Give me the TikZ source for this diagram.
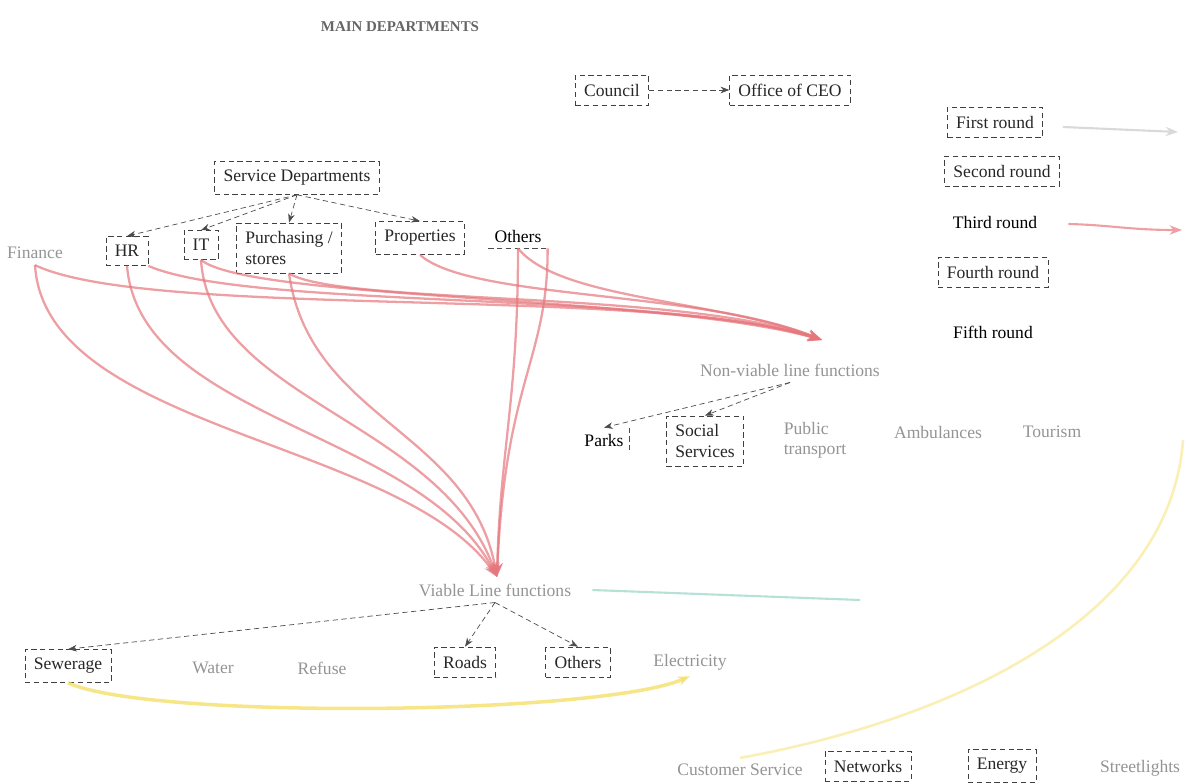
\documentclass[tikz,border=0pt]{standalone}
\usepackage{fontspec}
\setmainfont{Liberation Serif}
\usetikzlibrary{arrows.meta}
\definecolor{flowred}{RGB}{229,118,124}
\definecolor{flowyellow}{RGB}{244,222,96}
\definecolor{flowgreen}{RGB}{150,212,198}

\begin{document}
\begin{tikzpicture}[x=0.02cm,y=-0.02cm,font=\fontsize{10}{11.5}\selectfont,
    dbox/.style={draw=black!75,densely dashed,inner sep=5pt,text=black!85},
    dim/.style={text=black!42},
    link/.style={draw=black!70,densely dashed,-{Stealth[length=5pt]}},
    flow/.style={draw=flowred,line width=1.3pt,opacity=0.7,-{Stealth[length=8pt,width=6pt]}},
    legend/.style={line width=1.2pt,-{Stealth[length=7pt]}}]
  \useasboundingbox (0,0) rectangle (1185,783);

  % top level
  \node[font=\fontsize{8.5}{10}\selectfont\bfseries,text=black!60] (main) at (400,27) {MAIN DEPARTMENTS};
  \node[dbox] (council) at (612,90) {Council};
  \node[dbox] (ceo) at (790,90) {Office of CEO};
  \draw[link] (council) -- (ceo);

  % service departments
  \node[dbox] (service) at (297,178) {Service Departments};
  \node[dim] (finance) at (35,253) {Finance};
  \node[dbox] (hr) at (127,251) {HR};
  \node[dbox] (it) at (201,245) {IT};
  \node[dbox,align=left] (purch) at (289,248) {Purchasing /\\stores};
  \node[dbox] (props) at (420,238) {Properties};
  \node (othersA) at (518,236) {Others};
  \draw[black!70,densely dashed] (othersA.south west) -- (othersA.south east);
  \foreach \dept in {hr,it,purch,props}
    \draw[link] (service.south) -- (\dept.north);

  % non-viable line functions
  \node[dim] (nonviable) at (790,370) {Non-viable line functions};
  \node (parks) at (604,440) {Parks};
  \draw[black!70,densely dashed] (parks.north east) -- (parks.south east);
  \node[dbox,align=left] (social) at (705,441) {Social\\Services};
  \node[dim,align=left] (transport) at (815,440) {Public\\transport};
  \node[dim] (ambul) at (938,432) {Ambulances};
  \node[dim] (tourism) at (1052,432) {Tourism};
  \draw[link] (nonviable.south) -- (parks.north);
  \draw[link] (nonviable.south) -- (social.north);

  % viable line functions
  \node[dim] (viable) at (495,590) {Viable Line functions};
  \node[dbox] (sewer) at (68,666) {Sewerage};
  \node[dim] (water) at (213,668) {Water};
  \node[dim] (refuse) at (322,668) {Refuse};
  \node[dbox] (roads) at (465,662) {Roads};
  \node[dbox] (othersB) at (578,662) {Others};
  \node[dim] (elec) at (690,662) {Electricity};
  \foreach \func in {sewer,roads,othersB}
    \draw[link] (viable.south) -- (\func.north);

  % electricity
  \node[dim] (custserv) at (740,770) {Customer Service};
  \node[dbox] (networks) at (868,766) {Networks};
  \node[dbox] (energy) at (1002,766) {Energy};
  \node[dim] (street) at (1140,768) {Streetlights};

  % rounds
  \node[dbox] (round1) at (995,122) {First round};
  \node[dbox] (round2) at (1002,171) {Second round};
  \node (round3) at (995,222) {Third round};
  \node[dbox] (round4) at (993,272) {Fourth round};
  \node (round5) at (993,332) {Fifth round};
  \coordinate (end1) at (1178,132);
  \coordinate (end3) at (1182,230);
  \draw[legend,black!15] (round1.east)+(20,5) -- (end1);
  \draw[legend,flowred!70] (round3.east)+(25,2) .. controls (1110,225) and (1130,230) .. (end3);

  % first and second round flows
  \coordinate (nv) at (822,340);
  \coordinate (vl) at (497,577);
  \draw[flow] (finance.south) .. controls (150,320) and (650,285) .. (nv);
  \draw[flow] (hr.south east) .. controls (250,310) and (660,290) .. (nv);
  \draw[flow] (it.south) .. controls (250,300) and (660,295) .. (nv);
  \draw[flow] (purch.south) .. controls (340,305) and (680,290) .. (nv);
  \draw[flow] (props.south) .. controls (470,300) and (700,290) .. (nv);
  \draw[flow] (othersA.south) .. controls (560,300) and (720,300) .. (nv);
  \draw[flow] (finance.south) .. controls (45,430) and (400,440) .. (vl);
  \draw[flow] (hr.south) .. controls (140,420) and (420,430) .. (vl);
  \draw[flow] (it.south) .. controls (210,400) and (440,420) .. (vl);
  \draw[flow] (purch.south) .. controls (310,420) and (470,430) .. (vl);
  \draw[flow] (othersA.south) .. controls (518,400) and (500,450) .. (vl);
  \draw[flow] (othersA.south east) .. controls (548,360) and (505,380) .. (vl);

  % fourth and fifth round flows
  \coordinate (rim) at (1183,440);
  \coordinate (greenend) at (860,600);
  \draw[flowgreen,line width=1.2pt,opacity=0.7] (viable.east)+(15,0) -- (greenend);
  \draw[flowyellow,line width=2pt,opacity=0.75,-{Stealth[length=7pt]}]
    (sewer.south) .. controls (150,720) and (600,715) .. (elec.south);
  \draw[flowyellow,line width=1.5pt,opacity=0.45]
    (custserv.north) .. controls (950,720) and (1170,620) .. (rim);
\end{tikzpicture}
\end{document}
